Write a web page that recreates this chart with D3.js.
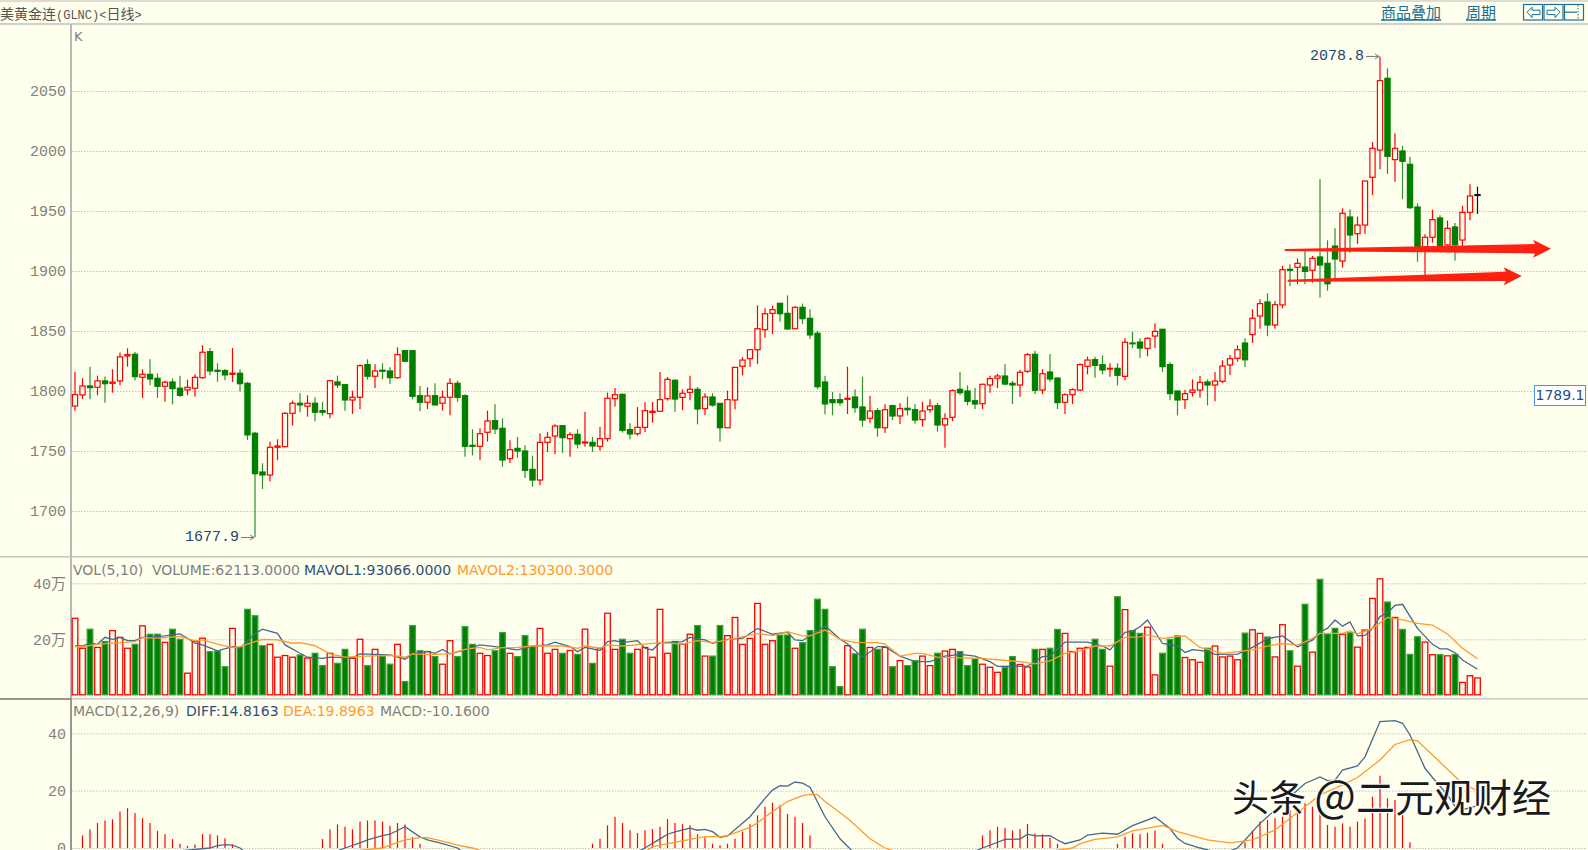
<!DOCTYPE html>
<html>
<head>
<meta charset="utf-8">
<script src="https://cdn.jsdelivr.net/npm/d3@7/dist/d3.min.js"></script>
<style>
  html, body { margin: 0; padding: 0; background: #ffffee; overflow: hidden; }
  svg { display: block; }
  .tick text { font-family: "Liberation Mono", "Noto Sans CJK SC", monospace; font-size: 15px; fill: #808080; }
  .tick line { stroke: #c4c4c4; stroke-dasharray: 1.5 1.5; }
  .legend { font-family: "DejaVu Sans", sans-serif; font-size: 14px; }
</style>
</head>
<body>
<script>
// daily candles
const opens = [
  1787.5,1796.7,1804.2,1803.1,1808.4,1806.4,1808.4,1829.2,1830.6,1811.4,
  1813.9,1810.6,1803.9,1807.5,1802.3,1800.9,1802.3,1811.1,1832.8,1817.3,
  1817.0,1813.9,1814.8,1806.4,1764.8,1732.5,1730.0,1753.1,1753.6,1781.4,
  1789.8,1787.3,1789.8,1783.6,1781.1,1807.5,1805.3,1792.5,1794.8,1822.0,
  1812.3,1817.3,1816.7,1811.1,1833.6,1833.6,1796.1,1790.6,1796.1,1789.8,
  1794.8,1806.4,1796.1,1754.7,1753.9,1765.6,1775.3,1768.9,1743.6,1752.2,
  1750.0,1734.7,1725.8,1757.2,1762.5,1771.1,1760.3,1763.9,1756.7,1757.2,
  1753.9,1760.3,1793.6,1797.2,1767.8,1764.4,1769.7,1782.2,1783.1,1793.6,
  1808.9,1794.7,1798.9,1801.4,1785.3,1795.0,1789.7,1769.4,1792.5,1820.6,
  1826.9,1834.4,1851.1,1864.7,1873.1,1864.7,1851.9,1869.7,1860.6,1848.1,
  1807.5,1792.8,1792.8,1793.1,1795.0,1786.7,1777.2,1783.6,1769.4,1787.8,
  1779.2,1785.6,1784.4,1776.1,1784.4,1787.8,1771.7,1778.1,1801.4,1800.0,
  1791.9,1789.4,1805.0,1810.6,1812.5,1806.4,1805.0,1816.4,1830.6,1800.8,
  1815.8,1810.8,1790.6,1796.9,1800.8,1820.6,1826.1,1822.0,1818.6,1818.9,
  1812.2,1840.0,1840.8,1835.6,1845.8,1851.4,1822.0,1800.0,1792.8,1798.9,
  1800.8,1807.5,1805.0,1808.1,1821.7,1827.2,1840.0,1847.0,1862.5,1874.2,
  1855.0,1871.7,1901.4,1903.1,1903.3,1900.6,1911.7,1906.4,1920.8,1908.3,
  1945.0,1931.1,1938.3,1978.1,2000.8,2060.6,1992.8,2000.0,1988.9,1953.3,
  1920.3,1928.1,1944.2,1921.7,1936.7,1925.8,1948.9,1963.3
];
const closes = [
  1797.0,1804.2,1802.8,1808.4,1806.1,1807.5,1828.4,1830.3,1812.0,1813.9,
  1810.0,1803.9,1807.3,1802.0,1796.4,1803.1,1811.4,1832.3,1816.7,1816.4,
  1813.4,1814.8,1806.1,1763.4,1731.1,1730.0,1753.1,1754.2,1781.4,1789.8,
  1788.4,1789.8,1782.3,1782.3,1808.6,1805.0,1792.5,1794.8,1821.1,1812.3,
  1816.7,1816.4,1811.1,1830.3,1824.8,1795.6,1790.6,1795.9,1788.4,1794.8,
  1806.4,1794.7,1753.9,1753.9,1764.4,1775.0,1768.3,1742.5,1751.1,1750.0,
  1733.9,1725.8,1757.2,1761.4,1770.8,1761.1,1763.6,1755.8,1757.5,1754.2,
  1760.3,1793.9,1796.9,1767.2,1764.2,1769.7,1783.6,1783.1,1792.8,1809.7,
  1793.3,1798.1,1801.4,1785.0,1795.0,1788.3,1769.4,1792.8,1819.7,1825.8,
  1834.4,1851.9,1864.4,1867.8,1864.4,1851.7,1869.7,1860.3,1846.7,1803.6,
  1789.2,1790.3,1790.3,1793.9,1786.1,1775.8,1783.3,1769.4,1784.4,1779.2,
  1785.3,1784.4,1775.8,1783.3,1787.5,1771.7,1776.9,1800.3,1798.6,1791.4,
  1789.2,1805.6,1810.3,1812.5,1805.8,1805.0,1815.6,1830.3,1800.6,1814.4,
  1810.0,1790.3,1796.9,1801.1,1822.0,1825.8,1821.4,1817.5,1818.9,1813.1,
  1840.6,1839.4,1835.8,1843.9,1849.7,1820.3,1797.8,1792.5,1797.8,1800.8,
  1807.2,1805.0,1808.3,1820.8,1826.9,1834.4,1826.0,1860.6,1872.8,1855.0,
  1871.9,1901.1,1900.6,1906.4,1899.7,1910.6,1905.0,1889.4,1910.0,1948.1,
  1930.0,1938.3,1975.0,2002.2,2058.6,1995.6,2002.2,1991.4,1952.8,1920.3,
  1928.1,1942.8,1921.1,1935.6,1921.7,1948.9,1962.5,1963.6
];
const highs = [
  1816.1,1810.6,1820.3,1812.8,1812.0,1818.1,1832.0,1835.6,1832.5,1818.1,
  1826.4,1814.8,1808.6,1810.6,1812.8,1809.5,1813.9,1838.1,1835.9,1823.1,
  1818.4,1835.9,1818.1,1807.5,1766.1,1739.8,1757.8,1759.8,1782.0,1792.0,
  1798.1,1796.4,1794.8,1790.9,1809.2,1812.8,1805.9,1800.3,1822.3,1826.4,
  1822.3,1823.1,1819.8,1836.4,1833.9,1833.9,1804.2,1803.1,1806.4,1800.3,
  1810.6,1808.6,1797.2,1768.1,1768.9,1783.6,1788.9,1777.2,1758.9,1761.7,
  1754.7,1746.1,1764.7,1765.8,1772.2,1771.4,1765.6,1768.1,1782.8,1761.7,
  1770.3,1798.6,1802.5,1797.8,1773.1,1786.7,1790.6,1790.8,1815.8,1811.7,
  1809.7,1801.4,1812.8,1803.3,1798.1,1798.1,1790.0,1800.3,1820.0,1828.3,
  1834.7,1871.4,1868.9,1871.1,1873.3,1879.7,1870.6,1872.8,1868.1,1850.0,
  1812.8,1799.2,1798.1,1820.3,1801.4,1811.9,1796.1,1785.8,1788.9,1788.6,
  1789.7,1795.3,1788.9,1791.1,1793.1,1790.0,1781.4,1801.4,1815.8,1804.7,
  1802.5,1806.1,1812.8,1814.4,1822.2,1808.3,1817.8,1831.7,1833.6,1818.1,
  1830.8,1811.4,1798.1,1802.2,1823.1,1828.6,1828.6,1829.7,1823.1,1823.1,
  1843.9,1849.4,1843.9,1844.7,1856.4,1851.9,1824.2,1800.3,1801.1,1809.7,
  1812.8,1809.7,1815.8,1825.6,1830.0,1838.1,1844.0,1868.1,1876.4,1881.4,
  1875.0,1904.4,1905.6,1910.6,1916.7,1912.5,1976.4,1925.6,1935.6,1952.2,
  1951.4,1945.3,1975.3,2007.5,2078.8,2068.9,2014.7,2004.4,1995.3,1956.4,
  1930.6,1951.1,1946.4,1942.0,1940.0,1954.4,1972.2,1970.3
];
const lows = [
  1783.6,1793.4,1793.1,1796.4,1790.3,1798.6,1804.8,1820.3,1808.9,1794.2,
  1804.8,1794.2,1791.1,1788.9,1795.3,1796.4,1795.3,1810.3,1813.1,1807.8,
  1808.9,1807.5,1799.5,1759.2,1677.9,1718.4,1724.5,1742.3,1753.1,1771.4,
  1782.3,1778.6,1774.5,1779.5,1777.3,1802.5,1783.6,1780.9,1785.0,1809.5,
  1802.5,1809.8,1805.9,1810.3,1823.9,1793.1,1783.1,1785.0,1788.1,1783.6,
  1779.8,1791.1,1745.3,1746.4,1742.2,1757.8,1763.9,1736.9,1740.0,1744.2,
  1727.5,1720.3,1721.4,1749.2,1747.2,1748.3,1745.3,1752.2,1753.6,1749.2,
  1750.3,1757.8,1786.9,1765.3,1759.7,1762.8,1765.8,1773.6,1782.8,1792.0,
  1782.8,1783.9,1792.2,1772.2,1779.7,1786.9,1757.8,1769.2,1784.7,1813.1,
  1820.3,1822.5,1844.4,1847.5,1857.8,1850.8,1851.4,1855.8,1843.3,1801.7,
  1780.6,1779.7,1787.8,1780.8,1781.9,1770.3,1773.6,1761.9,1765.0,1775.8,
  1772.5,1779.7,1772.8,1770.3,1781.9,1766.1,1752.8,1775.0,1796.7,1788.1,
  1785.0,1785.0,1798.6,1802.5,1804.7,1789.2,1795.3,1815.0,1797.5,1797.5,
  1807.8,1785.0,1780.8,1789.2,1800.0,1813.9,1811.1,1813.9,1811.9,1804.7,
  1808.9,1835.8,1827.8,1828.9,1835.8,1815.8,1792.2,1779.7,1785.0,1795.3,
  1794.4,1788.1,1791.4,1806.7,1813.3,1824.4,1820.0,1840.0,1851.9,1845.6,
  1851.9,1868.9,1887.2,1888.9,1888.9,1890.3,1877.8,1883.6,1892.5,1902.8,
  1915.3,1922.5,1930.8,1963.3,1984.7,1980.8,1974.4,1960.0,1951.7,1907.8,
  1896.7,1923.6,1920.3,1920.3,1908.6,1920.3,1942.2,1947.5
];

// volume, in 万 lots
const volumes = [
  27.5,16.8,23.6,17.1,19.2,23.1,20.7,16.8,18.2,24.8,
  21.8,21.8,18.9,23.6,20.0,7.9,19.2,20.4,15.6,15.8,
  10.2,23.9,17.1,30.7,28.4,17.7,18.2,13.6,14.2,13.6,
  14.4,13.3,15.0,10.6,15.0,11.4,16.4,13.2,20.0,10.6,
  16.4,14.0,11.1,18.2,4.9,24.9,15.9,15.6,13.8,11.1,
  19.5,13.8,24.5,18.2,15.0,14.2,15.9,22.4,15.0,13.8,
  21.3,17.4,23.9,15.0,16.4,15.0,16.0,14.6,23.6,11.4,
  16.8,29.3,16.4,20.0,15.0,16.4,17.1,13.6,30.7,15.0,
  19.2,18.3,21.8,24.9,14.0,14.0,24.9,21.3,27.8,18.2,
  20.3,32.8,18.2,19.5,21.5,21.5,16.8,18.8,23.1,34.3,
  30.7,10.2,3.1,17.7,14.8,23.6,17.1,16.4,17.1,10.2,
  12.4,10.6,12.4,14.0,10.6,15.0,15.8,16.4,15.6,10.6,
  13.0,11.1,10.0,8.2,9.9,13.8,11.0,10.1,16.4,16.4,
  16.8,23.5,22.1,15.6,16.8,17.1,20.0,16.4,10.4,35.2,
  30.6,23.1,22.1,24.3,7.3,15.0,20.0,21.2,13.5,12.7,
  11.8,16.8,17.6,13.7,14.0,12.7,22.2,23.4,22.1,20.8,
  13.7,25.2,15.9,10.4,32.5,15.4,41.4,21.9,23.9,21.8,
  22.3,17.2,23.3,34.6,41.6,33.3,27.8,23.5,14.6,20.9,
  19.0,14.5,14.5,14.1,14.6,4.6,7.0,6.2
];

// volume averages, read at the bends of each line
const mavol1Idx = [0,1,2,3,4,5,6,7,8,9,11,12,14,15,16,17,19,21,22,24,25,27,28,30,31,33,34,37,38,40,42,44,45,47,48,49,50,52,54,56,
  57,59,61,63,64,66,67,68,70,71,72,73,75,76,77,78,81,82,84,85,87,89,91,93,95,96,97,100,102,103,105,107,108,110,112,114,116,118,120,122,
  123,127,129,130,132,135,137,138,140,141,142,143,145,147,148,149,151,152,155,157,159,161,163,165,166,167,168,169,170,171,172,173,174,175,176,177,179,181,182,183,184,185,187];
const mavol1Val = [17.6,17.6,18.6,18.2,20.7,20,20.7,19.5,19.5,20.7,21,21.2,21.9,20.4,18.6,18,15.9,17.4,16.8,22.1,23.6,22.1,18,15,13.6,13.2,13.6,13.4,14.8,14.6,14.4,12.9,14.8,15.7,15,16.4,14.8,16.2,18,17.4,
  17,16.2,17.6,18,19,17.4,15.6,17.1,16,19.2,19.5,18.8,19.5,16.8,16.2,18.8,19.2,20.7,19.8,18.6,20,20.3,23.9,21.8,22.5,19.8,19.5,24.8,20.1,18.3,13.6,17.4,17.4,14,12,12,14,14.6,14,12,
  10.3,10.4,13.8,14,19,19,17.6,16.2,22.5,22.9,24.5,26.9,18.5,17.6,15.3,16.3,15.7,14.6,14.7,17.1,20.2,21.2,17.3,19.7,22.7,23.9,26.9,24.7,26.2,21.2,21.4,23.9,28.1,29.5,32.1,32.5,23.9,18.2,16.6,16.6,15.2,12.6,9.3];

const mavol2Idx = [0,1,3,5,8,9,11,14,16,17,19,21,22,24,25,27,29,30,32,34,36,39,42,44,45,48,50,52,54,55,
  57,59,61,65,67,68,70,71,73,76,78,81,83,85,88,91,93,95,97,98,100,102,104,107,108,110,112,113,115,118,121,
  123,126,128,130,132,134,136,138,140,142,143,145,148,150,153,155,157,159,161,163,165,166,169,170,171,173,175,177,179,181,183,185,187];
const mavol2Val = [17.4,17.4,18.2,18.6,19.2,20.6,20.4,21,19.4,19.8,18.3,17,17.4,19.2,20,19.8,18.6,18.8,17.7,14.8,13.6,14,14.3,13.6,14.8,14.5,14.9,16.4,17.1,16.2,
  17,17.1,17.6,17.6,16.8,17.6,16.8,18,17.6,18.3,18.8,18.3,19.5,18.8,20.3,22.1,21.3,22.7,21.2,21.2,23.3,20,18.9,18.8,18.3,14,15,15,13.6,13.4,13.2,
  12.7,12,11.2,12.3,15,15.9,17.6,17.6,20.7,20.9,21.6,20.3,21.2,17.1,15,15.6,16.2,17.6,18.5,17.9,20.3,22.1,22.1,23,21.9,23.9,27.8,26.9,25.7,25.1,21.9,16.8,13.03];

// MACD bars above zero, the rest falls below the window
const macdIdx = [1,2,3,4,5,6,7,8,9,10,11,12,13,14,15,16,17,18,19,20,21,
  33,34,35,36,37,38,39,40,41,42,43,44,45,46,
  69,70,71,72,73,74,75,76,77,78,79,80,81,82,83,84,85,86,87,88,89,90,91,92,93,94,95,96,97,98,
  121,122,123,124,125,126,127,128,129,130,131,139,140,141,142,143,144,145,
  156,157,158,159,160,161,162,163,164,165,166,167,168,169,170,171,172,173,174,175,176,177,178];
const macdVal = [4.4,6.5,8.7,9.6,10,12.7,13.9,12.2,10.4,8.7,6,4.8,3.1,1.5,0.8,1.2,4.8,4.8,4.4,3.4,1.2,
  3.1,6.5,8.2,7.4,6.5,9.2,9.6,9.6,9.2,7.8,8.7,8.2,3.8,1.5,
  1.5,3.2,7.9,10.9,8.7,6.2,5.2,6.2,6.6,7.4,10.1,8.7,8.3,7.9,4.8,3.7,1.5,1,1.5,3.2,5.7,8.3,11.4,14.4,15.8,14.9,11.9,10.9,8.7,4.4,
  4.4,6.2,7.4,7,6.1,6.6,8.4,5.1,4.8,3.6,1.5,1.5,3.9,5.1,4.8,5.3,6.1,1.5,
  2,6.1,9.2,9.8,10.4,10.9,13.2,14.4,15.6,14.4,12.1,8,7.4,8.6,7.4,9.2,10.3,17.9,25.2,17.3,16.7,11.8,2];

const diffIdx = [14,18,19,20,21,22,24,30,36,38,39,41,42,44,46,47,49,51,55,70,76,78,79,80,82,83,84,85,86,87,90,92,93,94,95,96,97,98,100,102,104,112,121,
  124,126,127,128,130,131,132,134,135,137,139,141,144,146,147,148,150,153,155,156,158,159,164,166,167,168,169,171,172,174,176,177,178,180,181,183,184,185,186,187];
const diffVal = [-1,0,0.8,1.2,1,0,-4,-6,0,1.8,2.8,4.3,4.8,7.4,3.9,2.8,1.5,0,-8,-8,0,3.2,4.8,5.6,6.9,6.2,6.5,5.7,3.7,4.2,10.9,17.3,20.2,21.7,21.6,23,22.6,21.2,10.9,3.2,-2,-10,0,
  3,3.1,4.8,4.2,4.3,2.8,1.5,2.8,4.5,5.2,4.8,7.8,10.8,6.8,3.4,1.6,0,-2,0,2.8,8.6,10.9,22.5,24.8,23.5,23.7,27.2,28.6,31.8,44.1,44.4,43.5,39.4,27.8,24.6,18.5,14.5,13.5,14,14.8];

const deaIdx = [30,41,42,44,46,47,49,51,53,60,74,77,80,82,84,86,87,90,91,93,95,97,98,99,100,103,106,108,115,125,133,134,136,139,141,144,145,147,151,154,157,160,164,166,169,171,174,176,178,179,181,185,187];
const deaVal = [-3,0,1,2.8,3.6,3.6,2.4,1,0,-6,-5,0.5,2,3,4,4,4.3,7.2,8.8,12.7,16.2,18.3,18.7,18.6,16.2,10.4,3.2,0,-6,-3,0,1.5,3,3.9,6,7.4,7.9,5.7,2.8,1.8,2.8,6.3,14.4,18.5,22,24.6,30.7,36.1,37.8,37.4,32.4,22.5,19.9];

const priceTicks = [1700, 1750, 1800, 1850, 1900, 1950, 2000, 2050];
const volTicks = [20, 40];
const macdTicks = [0, 20, 40];
const lastPrice = "1789.1";

// hand drawn support arrows on top of the chart (bar index, price)
const arrowFrom = [[161.3, 1917.5], [161.7, 1891.9]];
const arrowTo = [[196.8, 1918.6], [192.9, 1895.8]];

var width = 1588, height = 850;
var bg = "#ffffee", red = "#ff0000", green = "#007f00", blue = "#2f4f78", lineBlue = "#46688c", orange = "#ff9a2e";

var svg = d3.select("body").append("svg").attr("width", width).attr("height", height);

var x = d3.scaleLinear().domain([0, opens.length - 1]).range([75, 1477.5]);
var yPrice = d3.scaleLinear().domain([1700, 2050]).range([511, 91]);
var yVol = d3.scaleLinear().domain([0, 40]).range([695.3, 583.3]);
var yMacd = d3.scaleLinear().domain([0, 40]).range([848, 733.3]);

function drawAxis(scale, ticks, fmt) {
  var g = svg.append("g").attr("transform", "translate(71,0)")
    .call(d3.axisLeft(scale).tickValues(ticks).tickFormat(fmt).tickSize(0).tickPadding(5));
  g.select(".domain").remove();
  g.selectAll(".tick line").attr("x1", 1).attr("x2", 1515);
  return g;
}
drawAxis(yPrice, priceTicks, d => d);
drawAxis(yVol, volTicks, d => d + "万");
drawAxis(yMacd, macdTicks, d => d);

// frame
svg.append("rect").attr("x", 0).attr("y", 0).attr("width", width).attr("height", 2).attr("fill", "#dcdcd0");
svg.append("rect").attr("x", 0).attr("y", 23).attr("width", width).attr("height", 2).attr("fill", "#cfcfc8");
svg.append("rect").attr("x", 70).attr("y", 24).attr("width", 2).attr("height", 675).attr("fill", "#b8b8b8");
svg.append("rect").attr("x", 70).attr("y", 698).attr("width", 2).attr("height", 152).attr("fill", "#969696");
svg.append("rect").attr("x", 0).attr("y", 556).attr("width", width).attr("height", 1.5).attr("fill", "#c4c4c0");
svg.append("rect").attr("x", 72).attr("y", 698).attr("width", width).attr("height", 1.5).attr("fill", "#c8c8c4");
svg.append("rect").attr("x", 0).attr("y", 698).attr("width", 72).attr("height", 2).attr("fill", "#969696");

// candles
var candle = svg.append("g").selectAll("g").data(d3.range(opens.length)).enter().append("g");
function candleColor(i) {
  if (i === opens.length - 1) return "#111";
  return closes[i] >= opens[i] ? red : green;
}
candle.append("line")
  .attr("x1", i => x(i)).attr("x2", i => x(i))
  .attr("y1", i => yPrice(highs[i])).attr("y2", i => yPrice(lows[i]))
  .attr("stroke", i => candleColor(i) === green ? "#2e8f2e" : candleColor(i))
  .attr("stroke-width", 1.2);
candle.append("rect")
  .attr("x", i => x(i) - 2.6).attr("width", 5.2)
  .attr("y", i => yPrice(Math.max(opens[i], closes[i])))
  .attr("height", i => Math.max(Math.abs(yPrice(opens[i]) - yPrice(closes[i])), 0.8))
  .attr("fill", i => candleColor(i) === red ? bg : candleColor(i))
  .attr("stroke", i => candleColor(i))
  .attr("stroke-width", 1.2);

// extreme price labels
function extreme(i, price, label) {
  var px = x(i), py = yPrice(price);
  svg.append("path")
    .attr("d", `M${px - 14},${py}H${px - 1}M${px - 5},${py - 2.5}L${px - 1},${py}L${px - 5},${py + 2.5}`)
    .attr("fill", "none").attr("stroke", "#777").attr("stroke-width", 1);
  svg.append("text").attr("x", px - 16).attr("y", py - 1.5).attr("dy", "0.35em")
    .attr("text-anchor", "end").attr("font-family", "Liberation Mono").attr("font-size", 15)
    .attr("fill", "#25466e").text(label);
}
extreme(24, 1677.9, "1677.9");
extreme(174, 2078.8, "2078.8");

// last price tag
svg.append("rect").attr("x", 1534.5).attr("y", 385.5).attr("width", 51).attr("height", 20)
  .attr("fill", "#fff").attr("stroke", "#4f8ff0");
svg.append("text").attr("x", 1560).attr("y", 395.5).attr("dy", "0.35em").attr("text-anchor", "middle")
  .attr("font-family", "DejaVu Sans").attr("font-size", 14).attr("fill", "#24508c").text(lastPrice);

// volume
var volBar = svg.append("g").selectAll("rect").data(volumes).enter().append("rect")
  .attr("x", (d, i) => x(i) - 2.8).attr("width", 5.6)
  .attr("y", d => yVol(d)).attr("height", d => yVol(0) - yVol(d) - 0.5)
  .attr("fill", (d, i) => closes[i] >= opens[i] ? bg : green)
  .attr("stroke", (d, i) => closes[i] >= opens[i] ? red : "#3f9f3f")
  .attr("stroke-width", 1.3);

function addLine(xs, vs, scale, color) {
  var line = d3.line().x(d => x(d[0])).y(d => scale(d[1]));
  svg.append("path").datum(xs.map((v, k) => [v, vs[k]]))
    .attr("d", line).attr("fill", "none").attr("stroke", color).attr("stroke-width", 1.3);
}
addLine(mavol1Idx, mavol1Val, yVol, lineBlue);
addLine(mavol2Idx, mavol2Val, yVol, orange);

// macd
svg.append("g").selectAll("line").data(macdVal).enter().append("line")
  .attr("x1", (d, k) => x(macdIdx[k])).attr("x2", (d, k) => x(macdIdx[k]))
  .attr("y1", yMacd(0)).attr("y2", d => yMacd(d))
  .attr("stroke", red).attr("stroke-width", 1.2);
addLine(diffIdx, diffVal, yMacd, lineBlue);
addLine(deaIdx, deaVal, yMacd, orange);

// arrows
arrowFrom.forEach(function(p, k) {
  var a = [x(p[0]), yPrice(p[1])], b = [x(arrowTo[k][0]), yPrice(arrowTo[k][1])];
  var hx = b[0] - 16, hy = b[1] + (a[1] - b[1]) * 16 / (b[0] - a[0]);
  svg.append("path")
    .attr("d", `M${a[0]},${a[1] - 1}L${hx},${hy - 4.7}L${hx - 2},${hy - 9}L${b[0]},${b[1]}L${hx - 2},${hy + 9}L${hx},${hy + 4.7}L${a[0]},${a[1] + 1}Z`)
    .attr("fill", "#ff2010");
});

// legends
function legend(xPos, yPos, color, label) {
  svg.append("text").attr("class", "legend").attr("x", xPos).attr("y", yPos).attr("dy", "0.35em")
    .attr("fill", color).text(label);
}
var gray = "#808080";
legend(73, 570, gray, "VOL(5,10)");
legend(152, 570, gray, "VOLUME:62113.0000");
legend(304, 570, blue, "MAVOL1:93066.0000");
legend(457, 570, orange, "MAVOL2:130300.3000");
legend(73, 711, gray, "MACD(12,26,9)");
legend(186, 711, blue, "DIFF:14.8163");
legend(283, 711, orange, "DEA:19.8963");
legend(380, 711, gray, "MACD:-10.1600");

// top strip
var title = svg.append("text").attr("x", 0).attr("y", 13).attr("dy", "0.35em").attr("fill", "#555");
title.append("tspan").attr("font-family", "Noto Sans CJK SC").attr("font-size", 14).text("美黄金连");
title.append("tspan").attr("font-family", "Liberation Mono").attr("font-size", 12).text("(GLNC)<");
title.append("tspan").attr("font-family", "Noto Sans CJK SC").attr("font-size", 14).text("日线");
title.append("tspan").attr("font-family", "Liberation Mono").attr("font-size", 12).text(">");
svg.append("text").attr("x", 74).attr("y", 36).attr("dy", "0.35em")
  .attr("font-family", "DejaVu Sans").attr("font-size", 13).attr("fill", gray).text("K");

function link(xPos, label) {
  svg.append("text").attr("x", xPos).attr("y", 13).attr("dy", "0.35em")
    .attr("font-family", "Noto Sans CJK SC").attr("font-size", 15).attr("fill", "#1a6d96")
    .attr("text-decoration", "underline").text(label);
}
link(1381, "商品叠加");
link(1466, "周期");

var btnColor = "#1f6f9a";
[1523.5, 1544, 1564.5].forEach(function(bx, k) {
  svg.append("rect").attr("x", bx).attr("y", 4.5).attr("width", 19).attr("height", 15.5)
    .attr("fill", bg).attr("stroke", btnColor).attr("stroke-width", 1.2);
});
svg.append("path").attr("d", "M1527,12.2l5,-5v3h8v4.4h-8v3z").attr("fill", "none").attr("stroke", btnColor);
svg.append("path").attr("d", "M1560,12.2l-5,-5v3h-8v4.4h8v3z").attr("fill", "none").attr("stroke", btnColor);
svg.append("path").attr("d", "M1565,12.2h12").attr("fill", "none").attr("stroke", btnColor).attr("stroke-width", 1.2);
svg.append("path").attr("d", "M1578,5v15").attr("fill", "none").attr("stroke", btnColor).attr("stroke-dasharray", "1.5 1.5");

// watermark
var mark = svg.append("text").attr("x", 1232).attr("y", 806).attr("dy", "0.35em")
  .attr("font-family", "Noto Sans CJK SC")
  .attr("fill", "#1a1a1a").attr("stroke", "#fff").attr("stroke-width", 2).attr("paint-order", "stroke");
mark.append("tspan").attr("font-size", 37).text("头条 ");
mark.append("tspan").attr("font-size", 44).text("@");
mark.append("tspan").attr("font-size", 39).text("二元观财经");
</script>
</body>
</html>
